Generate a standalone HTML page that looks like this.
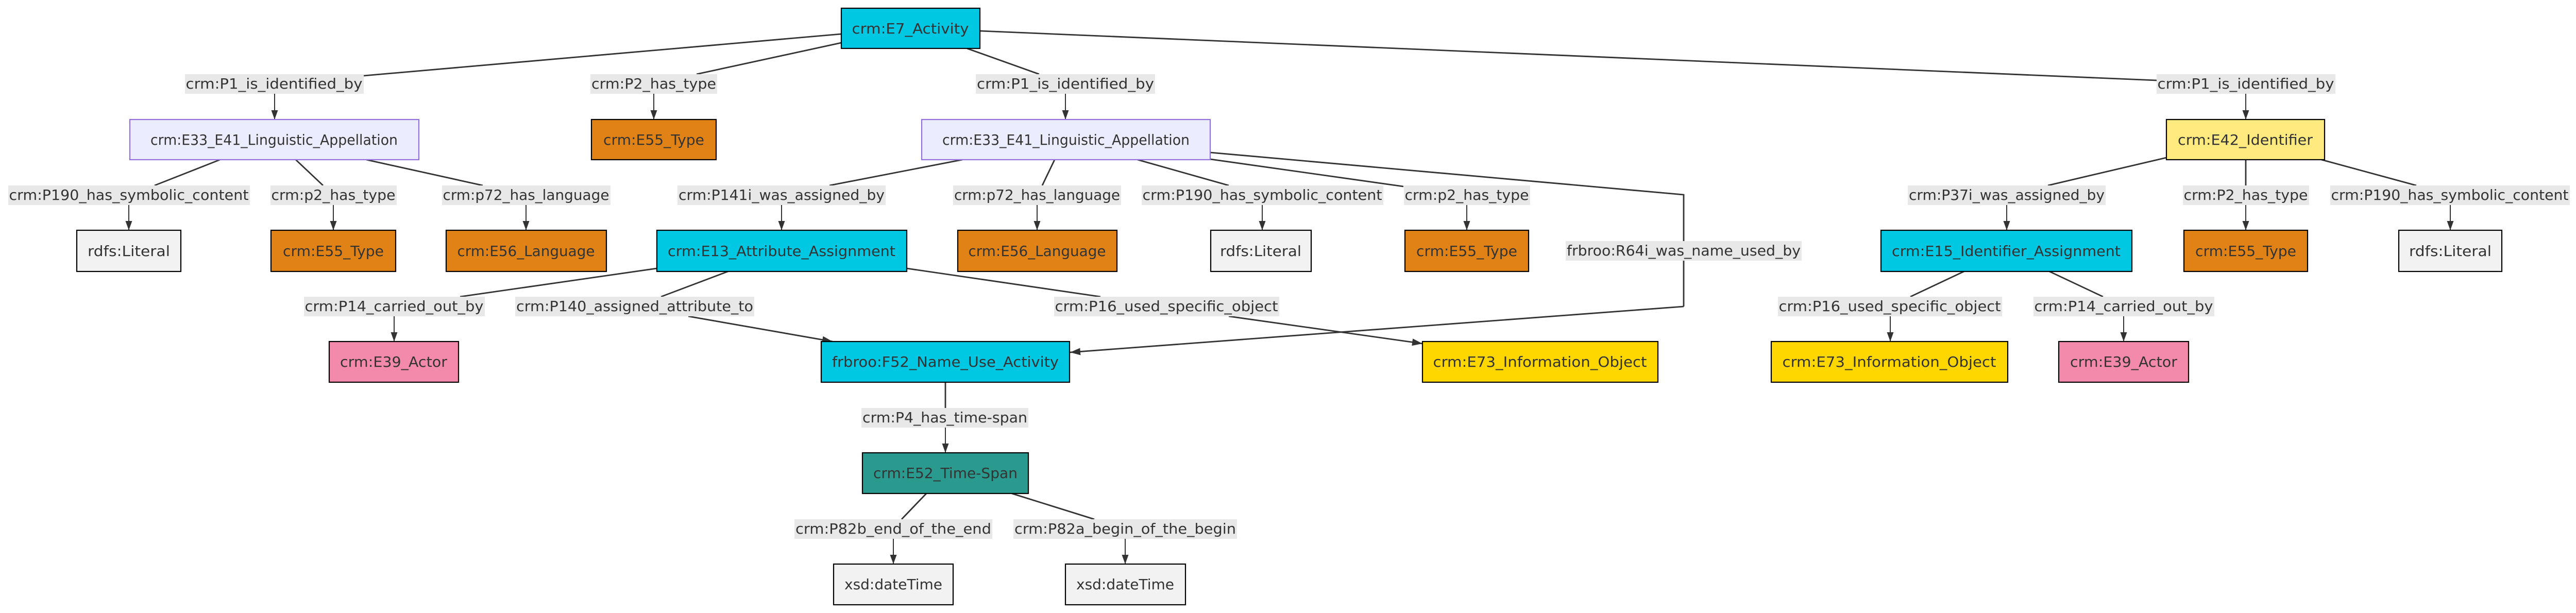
<!DOCTYPE html>
<html><head><meta charset="utf-8"><style>
html,body{margin:0;padding:0;background:#fff;}
svg{display:block;}
text{font-family:"DejaVu Sans","Liberation Sans",sans-serif;font-size:28px;fill:#333;}
.e{stroke:#333;stroke-width:2.8;fill:none;}
.t{stroke:#333;stroke-width:2;fill:none;}
.lb{fill:#e8e8e8;}
</style></head><body>
<svg width="5006" height="1190" viewBox="0 0 5006 1190" xmlns="http://www.w3.org/2000/svg">
<defs><marker id="a" viewBox="0 0 18 13" refX="18" refY="6.5" markerWidth="18" markerHeight="13" markerUnits="userSpaceOnUse" orient="auto"><path d="M0,0 L18,6.5 L0,13 z" fill="#333"/></marker>
<marker id="b" viewBox="0 0 20 14" refX="20" refY="7" markerWidth="20" markerHeight="14" markerUnits="userSpaceOnUse" orient="auto"><path d="M0,0 L20,7 L0,14 z" fill="#333"/></marker></defs>

<g class="e">
<line x1="1633" y1="66" x2="706" y2="147"/>
<line x1="1633" y1="83" x2="1352" y2="144"/>
<line x1="1877" y1="94" x2="2017" y2="144"/>
<line x1="1902" y1="60" x2="4186" y2="156"/>
<line x1="427" y1="310" x2="300" y2="360"/>
<line x1="574" y1="310" x2="627" y2="360"/>
<line x1="711" y1="310" x2="937" y2="360"/>
<line x1="1868" y1="310" x2="1610" y2="360"/>
<line x1="2047" y1="310" x2="2023" y2="360"/>
<line x1="2208" y1="310" x2="2385" y2="360"/>
<line x1="2349" y1="309" x2="2724" y2="362"/>
<polyline points="2349,296 3268,378 3268,595"/>
<line x1="4205" y1="306" x2="3975" y2="360"/>
<line x1="4359" y1="310" x2="4359" y2="360"/>
<line x1="4506" y1="310" x2="4690" y2="360"/>
<line x1="1275" y1="521" x2="893" y2="576"/>
<line x1="1413" y1="527" x2="1283" y2="576"/>
<line x1="1760" y1="521" x2="2136" y2="576"/>
<line x1="3812" y1="527" x2="3708" y2="576"/>
<line x1="3978" y1="527" x2="4082" y2="576"/>
<line x1="1835" y1="742" x2="1835" y2="792"/>
<line x1="1798" y1="958" x2="1750" y2="1008"/>
<line x1="1964" y1="958" x2="2124" y2="1008"/>
</g>
<g class="t" marker-end="url(#a)">
<line x1="533" y1="182" x2="533" y2="232"/>
<line x1="1269" y1="182" x2="1269" y2="232"/>
<line x1="2068" y1="182" x2="2068" y2="232"/>
<line x1="4359" y1="182" x2="4359" y2="232"/>
<line x1="250" y1="398" x2="250" y2="447"/>
<line x1="647" y1="398" x2="647" y2="447"/>
<line x1="1021" y1="398" x2="1021" y2="447"/>
<line x1="1517" y1="398" x2="1517" y2="447"/>
<line x1="2013" y1="398" x2="2013" y2="447"/>
<line x1="2450" y1="398" x2="2450" y2="447"/>
<line x1="2847" y1="398" x2="2847" y2="447"/>
<line x1="3895" y1="398" x2="3895" y2="447"/>
<line x1="4359" y1="398" x2="4359" y2="447"/>
<line x1="4756" y1="398" x2="4756" y2="447"/>
<line x1="765" y1="614" x2="765" y2="663"/>
<line x1="3669" y1="614" x2="3669" y2="663"/>
<line x1="4122" y1="614" x2="4122" y2="663"/>
<line x1="1835" y1="830" x2="1835" y2="879"/>
<line x1="1734" y1="1046" x2="1734" y2="1095"/>
<line x1="2184" y1="1046" x2="2184" y2="1095"/>
</g>
<g class="e" marker-end="url(#b)">
<line x1="1336" y1="614" x2="1616" y2="663"/>
<line x1="2385" y1="614" x2="2761" y2="667"/>
<line x1="3268" y1="595" x2="2077" y2="684"/>
</g>

<g>
<rect class="lb" x="359" y="144" width="347" height="38"/><text x="532" y="172" text-anchor="middle" textLength="343" lengthAdjust="spacingAndGlyphs">crm:P1_is_identified_by</text>
<rect class="lb" x="1146" y="144" width="246" height="38"/><text x="1269" y="172" text-anchor="middle" textLength="242" lengthAdjust="spacingAndGlyphs">crm:P2_has_type</text>
<rect class="lb" x="1894" y="144" width="348" height="38"/><text x="2068" y="172" text-anchor="middle" textLength="344" lengthAdjust="spacingAndGlyphs">crm:P1_is_identified_by</text>
<rect class="lb" x="4186" y="144" width="347" height="38"/><text x="4359" y="172" text-anchor="middle" textLength="343" lengthAdjust="spacingAndGlyphs">crm:P1_is_identified_by</text>

<rect class="lb" x="16" y="360" width="469" height="38"/><text x="250" y="388" text-anchor="middle" textLength="465" lengthAdjust="spacingAndGlyphs">crm:P190_has_symbolic_content</text>
<rect class="lb" x="525" y="360" width="245" height="38"/><text x="647" y="388" text-anchor="middle" textLength="241" lengthAdjust="spacingAndGlyphs">crm:p2_has_type</text>
<rect class="lb" x="858" y="360" width="327" height="38"/><text x="1021" y="388" text-anchor="middle" textLength="323" lengthAdjust="spacingAndGlyphs">crm:p72_has_language</text>
<rect class="lb" x="1315" y="360" width="404" height="38"/><text x="1517" y="388" text-anchor="middle" textLength="400" lengthAdjust="spacingAndGlyphs">crm:P141i_was_assigned_by</text>
<rect class="lb" x="1850" y="360" width="326" height="38"/><text x="2013" y="388" text-anchor="middle" textLength="322" lengthAdjust="spacingAndGlyphs">crm:p72_has_language</text>
<rect class="lb" x="2216" y="360" width="469" height="38"/><text x="2450" y="388" text-anchor="middle" textLength="465" lengthAdjust="spacingAndGlyphs">crm:P190_has_symbolic_content</text>
<rect class="lb" x="2725" y="360" width="245" height="38"/><text x="2847" y="388" text-anchor="middle" textLength="241" lengthAdjust="spacingAndGlyphs">crm:p2_has_type</text>
<rect class="lb" x="3703" y="360" width="384" height="38"/><text x="3895" y="388" text-anchor="middle" textLength="380" lengthAdjust="spacingAndGlyphs">crm:P37i_was_assigned_by</text>
<rect class="lb" x="4237" y="360" width="245" height="38"/><text x="4359" y="388" text-anchor="middle" textLength="241" lengthAdjust="spacingAndGlyphs">crm:P2_has_type</text>
<rect class="lb" x="4523" y="360" width="465" height="38"/><text x="4755" y="388" text-anchor="middle" textLength="461" lengthAdjust="spacingAndGlyphs">crm:P190_has_symbolic_content</text>

<rect class="lb" x="3039" y="468" width="458" height="38"/><text x="3268" y="496" text-anchor="middle" textLength="454" lengthAdjust="spacingAndGlyphs">frbroo:R64i_was_name_used_by</text>

<rect class="lb" x="590" y="576" width="351" height="38"/><text x="765" y="604" text-anchor="middle" textLength="347" lengthAdjust="spacingAndGlyphs">crm:P14_carried_out_by</text>
<rect class="lb" x="1000" y="576" width="464" height="38"/><text x="1232" y="604" text-anchor="middle" textLength="460" lengthAdjust="spacingAndGlyphs">crm:P140_assigned_attribute_to</text>
<rect class="lb" x="2046" y="576" width="437" height="38"/><text x="2264" y="604" text-anchor="middle" textLength="433" lengthAdjust="spacingAndGlyphs">crm:P16_used_specific_object</text>
<rect class="lb" x="3451" y="576" width="435" height="38"/><text x="3668" y="604" text-anchor="middle" textLength="431" lengthAdjust="spacingAndGlyphs">crm:P16_used_specific_object</text>
<rect class="lb" x="3947" y="576" width="351" height="38"/><text x="4122" y="604" text-anchor="middle" textLength="347" lengthAdjust="spacingAndGlyphs">crm:P14_carried_out_by</text>

<rect class="lb" x="1672" y="792" width="324" height="38"/><text x="1834" y="820" text-anchor="middle" textLength="320" lengthAdjust="spacingAndGlyphs">crm:P4_has_time-span</text>
<rect class="lb" x="1542" y="1008" width="384" height="38"/><text x="1734" y="1036" text-anchor="middle" textLength="380" lengthAdjust="spacingAndGlyphs">crm:P82b_end_of_the_end</text>
<rect class="lb" x="1967" y="1008" width="434" height="38"/><text x="2184" y="1036" text-anchor="middle" textLength="430" lengthAdjust="spacingAndGlyphs">crm:P82a_begin_of_the_begin</text>
</g>

<g stroke="#000" stroke-width="2.2">
<rect x="1633" y="16" width="269" height="78" fill="#00c7e2"/>
<rect x="252" y="232" width="561" height="78" fill="#ececff" stroke="#9370db"/>
<rect x="1148" y="232" width="242" height="78" fill="#e08216"/>
<rect x="1789" y="232" width="560" height="78" fill="#ececff" stroke="#9370db"/>
<rect x="4205" y="232" width="307" height="78" fill="#ffea80"/>

<rect x="149" y="447" width="202" height="80" fill="#f2f2f2"/>
<rect x="526" y="447" width="242" height="80" fill="#e08216"/>
<rect x="866" y="447" width="311" height="80" fill="#e08216"/>
<rect x="1275" y="447" width="485" height="80" fill="#00c7e2"/>
<rect x="1859" y="447" width="309" height="80" fill="#e08216"/>
<rect x="2350" y="447" width="195" height="80" fill="#f2f2f2"/>
<rect x="2727" y="447" width="240" height="80" fill="#e08216"/>
<rect x="3651" y="447" width="487" height="80" fill="#00c7e2"/>
<rect x="4239" y="447" width="240" height="80" fill="#e08216"/>
<rect x="4656" y="447" width="200" height="80" fill="#f2f2f2"/>

<rect x="639" y="663" width="251" height="79" fill="#f48aab"/>
<rect x="1594" y="663" width="482" height="79" fill="#00c7e2"/>
<rect x="2761" y="663" width="457" height="79" fill="#ffd700"/>
<rect x="3438" y="663" width="459" height="79" fill="#ffd700"/>
<rect x="3996" y="663" width="252" height="79" fill="#f48aab"/>

<rect x="1674" y="879" width="322" height="79" fill="#2a9a8f"/>
<rect x="1618" y="1095" width="232" height="79" fill="#f2f2f2"/>
<rect x="2068" y="1095" width="233" height="79" fill="#f2f2f2"/>
</g>
<g text-anchor="middle">
<text x="1767" y="65" textLength="227" lengthAdjust="spacingAndGlyphs">crm:E7_Activity</text>
<text x="532" y="281" textLength="480" lengthAdjust="spacingAndGlyphs">crm:E33_E41_Linguistic_Appellation</text>
<text x="1269" y="281" textLength="196" lengthAdjust="spacingAndGlyphs">crm:E55_Type</text>
<text x="2069" y="281" textLength="480" lengthAdjust="spacingAndGlyphs">crm:E33_E41_Linguistic_Appellation</text>
<text x="4358" y="281" textLength="262" lengthAdjust="spacingAndGlyphs">crm:E42_Identifier</text>

<text x="250" y="497" textLength="160" lengthAdjust="spacingAndGlyphs">rdfs:Literal</text>
<text x="647" y="497" textLength="196" lengthAdjust="spacingAndGlyphs">crm:E55_Type</text>
<text x="1021" y="497" textLength="267" lengthAdjust="spacingAndGlyphs">crm:E56_Language</text>
<text x="1517" y="497" textLength="442" lengthAdjust="spacingAndGlyphs">crm:E13_Attribute_Assignment</text>
<text x="2013" y="497" textLength="267" lengthAdjust="spacingAndGlyphs">crm:E56_Language</text>
<text x="2447" y="497" textLength="158" lengthAdjust="spacingAndGlyphs">rdfs:Literal</text>
<text x="2847" y="497" textLength="196" lengthAdjust="spacingAndGlyphs">crm:E55_Type</text>
<text x="3894" y="497" textLength="444" lengthAdjust="spacingAndGlyphs">crm:E15_Identifier_Assignment</text>
<text x="4359" y="497" textLength="196" lengthAdjust="spacingAndGlyphs">crm:E55_Type</text>
<text x="4756" y="497" textLength="160" lengthAdjust="spacingAndGlyphs">rdfs:Literal</text>

<text x="764" y="712" textLength="208" lengthAdjust="spacingAndGlyphs">crm:E39_Actor</text>
<text x="1835" y="712" textLength="440" lengthAdjust="spacingAndGlyphs">frbroo:F52_Name_Use_Activity</text>
<text x="2989" y="712" textLength="415" lengthAdjust="spacingAndGlyphs">crm:E73_Information_Object</text>
<text x="3667" y="712" textLength="415" lengthAdjust="spacingAndGlyphs">crm:E73_Information_Object</text>
<text x="4122" y="712" textLength="208" lengthAdjust="spacingAndGlyphs">crm:E39_Actor</text>

<text x="1835" y="928" textLength="280" lengthAdjust="spacingAndGlyphs">crm:E52_Time-Span</text>
<text x="1734" y="1144" textLength="190" lengthAdjust="spacingAndGlyphs">xsd:dateTime</text>
<text x="2184" y="1144" textLength="190" lengthAdjust="spacingAndGlyphs">xsd:dateTime</text>
</g>
</svg>
</body></html>
